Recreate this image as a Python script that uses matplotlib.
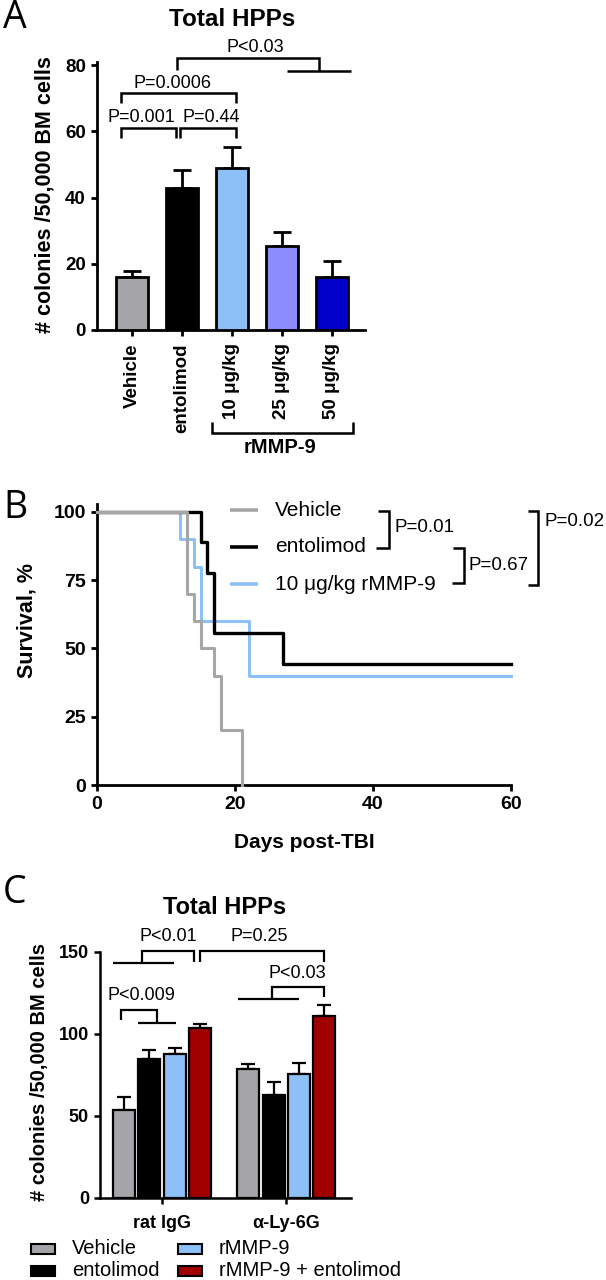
import matplotlib
matplotlib.use('Agg')
import matplotlib.pyplot as plt
from matplotlib.lines import Line2D
from matplotlib.patches import Rectangle
import numpy as np

plt.rcParams['font.family'] = ['Liberation Sans', 'DejaVu Sans']

# ---------------- data ----------------
# Panel A
a_labels = ['Vehicle', 'entolimod', '10 μg/kg', '25 μg/kg', '50 μg/kg']
a_means = [16.0, 42.9, 49.0, 25.4, 16.0]
a_sem = [1.8, 5.4, 6.3, 4.2, 4.9]
a_colors = ['#A5A5A9', '#000000', '#8EC0F8', '#8C8CFF', '#0000C8']

# Panel B (Kaplan-Meier steps)
b_names = ['Vehicle', 'entolimod', '10 μg/kg rMMP-9']
veh_days = [0, 13, 14, 15, 17, 18, 21]
veh_surv = [100, 70, 60, 50, 40, 20, 0]
ent_days = [0, 15, 16, 17, 27, 60]
ent_surv = [100, 88.9, 77.8, 55.6, 44.4, 44.4]
rmp_days = [0, 12, 14, 15, 22, 60]
rmp_surv = [100, 90, 80, 60, 40, 40]
b_colors = ['#A6A6A6', '#000000', '#8EC0F8']
b_xticks = [0, 20, 40, 60]
b_yticks = [0, 25, 50, 75, 100]

# Panel C
c_groups = ['rat IgG', 'α-Ly-6G']
c_series = ['Vehicle', 'entolimod', 'rMMP-9', 'rMMP-9 + entolimod']
c_vehicle = [53.7, 78.5]
c_vehicle_err = [7.7, 3.2]
c_ento = [84.7, 62.8]
c_ento_err = [5.5, 8.1]
c_rmmp = [87.8, 75.6]
c_rmmp_err = [3.8, 6.5]
c_combo = [103.4, 110.9]
c_combo_err = [3.0, 6.7]
c_colors = ['#A5A5A9', '#000000', '#8EC0F8', '#A00000']

# ---------------- layout helpers ----------------
W, H = 606, 1280
fig = plt.figure(figsize=(6.06, 12.8), dpi=100)


def fx(px):
    return px / W


def fy(py):
    return 1 - py / H


def ax_rect(left, right, top, bottom):
    return [left / W, 1 - bottom / H, (right - left) / W, (bottom - top) / H]


def fig_line(pts, lw=1.8, color='black'):
    xs = [fx(p[0]) for p in pts]
    ys = [fy(p[1]) for p in pts]
    fig.add_artist(Line2D(xs, ys, transform=fig.transFigure, color=color,
                          lw=lw, solid_capstyle='butt', solid_joinstyle='miter'))


def style_axes(ax, tick_size, lw=2.0):
    for s in ['top', 'right']:
        ax.spines[s].set_visible(False)
    for s in ['left', 'bottom']:
        ax.spines[s].set_linewidth(lw)
    ax.tick_params(direction='out', length=4.5, width=lw, labelsize=tick_size)
    for lab in ax.get_xticklabels() + ax.get_yticklabels():
        lab.set_fontweight('bold')


def bracket(ax, xs, ys, lw=1.8):
    ax.plot(xs, ys, color='black', lw=lw, clip_on=False,
            solid_capstyle='butt', solid_joinstyle='miter')


letter_font = ['Open Sans', 'DejaVu Sans']

# ================= Panel A =================
axA = fig.add_axes(ax_rect(97, 365, 61.7, 330))
xa = np.arange(len(a_labels))
axA.bar(xa, a_means, width=0.64, color=a_colors, edgecolor='black',
        linewidth=2.0, zorder=3)
axA.errorbar(xa, a_means, yerr=[np.zeros(len(a_sem)), a_sem], fmt='none',
             ecolor='black', elinewidth=2.0, capsize=6.5, capthick=2.0, zorder=2)
axA.set_xlim(-0.7, 4.66)
axA.set_ylim(0, 81)
axA.set_yticks([0, 20, 40, 60, 80])
axA.set_xticks(xa)
axA.set_xticklabels(a_labels, rotation=90, fontsize=14.5)
style_axes(axA, 13.5)
axA.tick_params(axis='x', pad=5)

# significance brackets A
bracket(axA, [-0.22, -0.22, 0.88, 0.88], [58, 61, 61, 58])
bracket(axA, [0.96, 0.96, 2.08, 2.08], [58, 61, 61, 58])
bracket(axA, [-0.22, -0.22, 2.08, 2.08], [68.5, 71.5, 71.5, 68.5])
bracket(axA, [0.9, 0.9, 3.74, 3.74], [78.5, 82, 82, 78.3])
bracket(axA, [3.1, 4.38], [78.3, 78.3])
axA.text(0.19, 64.3, 'P=0.001', ha='center', va='center', fontsize=13)
axA.text(1.58, 64.3, 'P=0.44', ha='center', va='center', fontsize=13)
axA.text(0.81, 74.5, 'P=0.0006', ha='center', va='center', fontsize=13)
axA.text(2.46, 85.2, 'P<0.03', ha='center', va='center', fontsize=13, clip_on=False)

# rMMP-9 bracket under labels
bracket(axA, [1.6, 1.6, 4.42, 4.42], [-27.8, -31.1, -31.1, -27.8])
axA.text(2.96, -35.5, 'rMMP-9', ha='center', va='center', fontsize=14.5,
         fontweight='bold', clip_on=False)

fig.text(fx(232), fy(20), 'Total HPPs', ha='center', va='center',
         fontsize=17.5, fontweight='bold')
fig.text(fx(45), fy(195), '# colonies /50,000 BM cells', rotation=90,
         ha='center', va='center', fontsize=15.5, fontweight='bold')
fig.text(fx(3), fy(18), 'A', ha='left', va='center', fontsize=27,
         family=letter_font)

# ================= Panel B =================
axB = fig.add_axes(ax_rect(97, 511, 503.8, 785))
axB.step(rmp_days, rmp_surv, where='post', color=b_colors[2], lw=2.2,
         zorder=3, clip_on=False)
axB.step(ent_days, ent_surv, where='post', color=b_colors[1], lw=2.4,
         zorder=4, clip_on=False)
axB.step(veh_days, veh_surv, where='post', color=b_colors[0], lw=2.2,
         zorder=5, clip_on=False)
axB.set_xlim(0, 60)
axB.set_ylim(0, 103)
axB.set_xticks(b_xticks)
axB.set_yticks(b_yticks)
style_axes(axB, 14)
axB.set_xlabel('Days post-TBI', fontsize=15, fontweight='bold', labelpad=14)

fig.text(fx(27), fy(620), 'Survival, %', rotation=90, ha='center',
         va='center', fontsize=15.5, fontweight='bold')
fig.text(fx(3), fy(508), 'B', ha='left', va='center', fontsize=27,
         family=letter_font)

# legend B
leg_rows = [510, 547, 584]
for name, col, yy in zip(b_names, b_colors, leg_rows):
    fig_line([(230, yy), (258, yy)], lw=2.6, color=col)
    fig.text(fx(275), fy(yy), name, ha='left', va='center', fontsize=15)

# brackets B
fig_line([(378, 510.7), (389, 510.7), (389, 548), (376, 548)])
fig.text(fx(394), fy(528), 'P=0.01', ha='left', va='center', fontsize=13.5)
fig_line([(453, 548), (464, 548), (464, 583), (452, 583)])
fig.text(fx(469), fy(566), 'P=0.67', ha='left', va='center', fontsize=13.5)
fig_line([(528, 510.7), (538, 510.7), (538, 585), (528, 585)])
fig.text(fx(545), fy(522), 'P=0.02', ha='left', va='center', fontsize=13.5)

# ================= Panel C =================
axC = fig.add_axes(ax_rect(100, 350.8, 952, 1198))
xc = np.arange(len(c_groups))
spacing = 0.203
bw = 0.177
c_vals = [c_vehicle, c_ento, c_rmmp, c_combo]
c_errs = [c_vehicle_err, c_ento_err, c_rmmp_err, c_combo_err]
for i, (vals, errs, col) in enumerate(zip(c_vals, c_errs, c_colors)):
    pos = xc + (i - 1.5) * spacing
    axC.bar(pos, vals, width=bw, color=col, edgecolor='black', linewidth=1.6,
            zorder=3)
    axC.errorbar(pos, vals, yerr=[np.zeros(len(errs)), errs], fmt='none',
                 ecolor='black', elinewidth=1.6, capsize=5.2, capthick=1.6,
                 zorder=2)
axC.set_xlim(-0.5, 1.52)
axC.set_ylim(0, 150)
axC.set_yticks([0, 50, 100, 150])
axC.set_xticks(xc)
axC.set_xticklabels(c_groups, fontsize=13.5)
style_axes(axC, 13, lw=1.8)
axC.tick_params(axis='x', pad=8)

# brackets C
bl = 1.6
bracket(axC, [-0.394, 0.10], [143.3, 143.3], bl)
bracket(axC, [-0.165, -0.165, 0.255, 0.255], [143.3, 150.6, 150.6, 143.9], bl)
bracket(axC, [0.302, 0.302, 1.307, 1.307], [143.9, 150.6, 150.6, 143.9], bl)
bracket(axC, [0.614, 1.102], [121.6, 121.6], bl)
bracket(axC, [0.884, 0.884, 1.307, 1.307], [121.6, 128.7, 128.7, 122.3], bl)
bracket(axC, [-0.33, -0.33, -0.04, -0.04], [108.5, 114.6, 114.6, 107], bl)
bracket(axC, [-0.19, 0.116], [107, 107], bl)
axC.text(0.05, 159.5, 'P<0.01', ha='center', va='center', fontsize=13, clip_on=False)
axC.text(0.785, 159.5, 'P=0.25', ha='center', va='center', fontsize=13, clip_on=False)
axC.text(1.09, 136.8, 'P<0.03', ha='center', va='center', fontsize=13)
axC.text(-0.165, 123.7, 'P<0.009', ha='center', va='center', fontsize=13)

fig.text(fx(225), fy(908), 'Total HPPs', ha='center', va='center',
         fontsize=17, fontweight='bold')
fig.text(fx(40), fy(1072), '# colonies /50,000 BM cells', rotation=90,
         ha='center', va='center', fontsize=14.5, fontweight='bold')
fig.text(fx(3), fy(893), 'C', ha='left', va='center', fontsize=27,
         family=letter_font)

# legend C
leg_pos = [(31, 72, 1249), (31, 72, 1271), (178, 219, 1249), (178, 219, 1271)]
for name, col, (hx, tx, yy) in zip(c_series, c_colors, leg_pos):
    fig.add_artist(Rectangle((fx(hx), fy(yy + 5)), 24 / W, 10 / H,
                             transform=fig.transFigure, facecolor=col,
                             edgecolor='black', lw=1.5))
    fig.text(fx(tx), fy(yy), name, ha='left', va='center', fontsize=14.5)

fig.savefig('out.png', dpi=100)
